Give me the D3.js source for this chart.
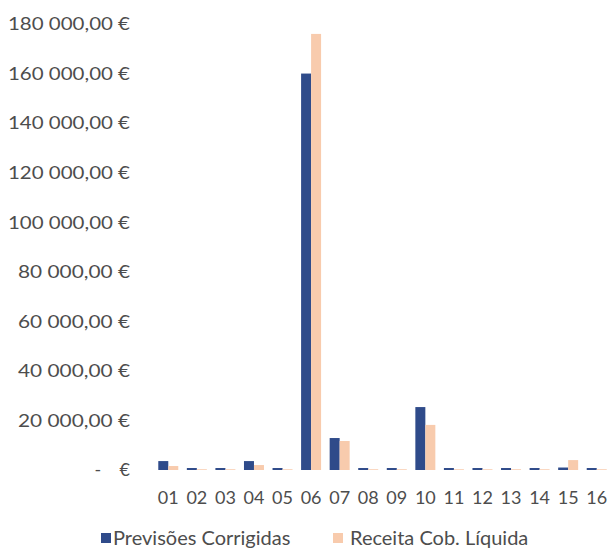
<!DOCTYPE html>
<html>
<head>
<meta charset="utf-8">
<script src="https://d3js.org/d3.v7.min.js"></script>
<style>
  body { margin: 0; background: #fff; }
  text { font-family: Lato, "Open Sans", sans-serif; fill: #4d4d4d; white-space: pre; }
</style>
</head>
<body>
<script>
var categories = ["01","02","03","04","05","06","07","08","09","10","11","12","13","14","15","16"];
var previsoes = [3600, 800, 800, 3600, 800, 160000, 12900, 800, 800, 25400, 800, 800, 800, 800, 1000, 800];
var receita   = [1600, 300, 300, 2000, 300, 176000, 11700, 300, 300, 18200, 300, 300, 300, 300, 4000, 300];
var yTicks = [0, 20000, 40000, 60000, 80000, 100000, 120000, 140000, 160000, 180000];
var seriesNames = ["Previsões Corrigidas", "Receita Cob. Líquida"];
var colors = ["#2F4B8A", "#F8CBAD"];

var width = 608, height = 552;
var svg = d3.select("body").append("svg")
    .attr("width", width).attr("height", height);

var x = d3.scaleBand().domain(categories).range([154, 611]).paddingInner(0.3).paddingOuter(0.15);
var x1 = d3.scaleBand().domain([0, 1]).range([0, x.bandwidth()]);
var y = d3.scaleLinear().domain([0, 180000]).range([470, 24]);

function fmt(v) {
  if (v === 0) return "-    €";
  return d3.format(",.2f")(v).replace(/,/g, " ").replace(".", ",") + " €";
}

svg.append("g").selectAll("text").data(yTicks).join("text")
    .attr("x", 130).attr("y", d => y(d)).attr("dy", "0.35em")
    .attr("text-anchor", "end").style("font-size", "18px")
    .attr("textLength", d => d ? (d >= 100000 ? 122 : 112) : null)
    .attr("lengthAdjust", "spacingAndGlyphs")
    .text(fmt);

var rows = categories.map((c, i) => ({ c: c, v: [previsoes[i], receita[i]] }));
var g = svg.append("g").selectAll("g").data(rows).join("g")
    .attr("transform", d => "translate(" + x(d.c) + ",0)");
g.selectAll("rect").data(d => d.v).join("rect")
    .attr("x", (d, i) => x1(i)).attr("width", x1.bandwidth())
    .attr("y", d => y(d)).attr("height", d => y(0) - y(d))
    .attr("fill", (d, i) => colors[i]);

svg.append("g").selectAll("text").data(categories).join("text")
    .attr("x", d => x(d) + x.bandwidth() / 2).attr("y", 498).attr("dy", "0.35em")
    .attr("text-anchor", "middle").style("font-size", "18px")
    .text(d => d);

var legX = [101, 333];
var leg = svg.append("g").selectAll("g").data(seriesNames).join("g")
    .attr("transform", (d, i) => "translate(" + legX[i] + ",538)");
leg.append("rect").attr("x", 0).attr("y", -5).attr("width", 10).attr("height", 10)
    .attr("fill", (d, i) => colors[i]);
leg.append("text").attr("x", (d, i) => i ? 17 : 12).attr("y", 0).attr("dy", "0.35em")
    .style("font-size", "20px").text(d => d);
</script>
</body>
</html>
